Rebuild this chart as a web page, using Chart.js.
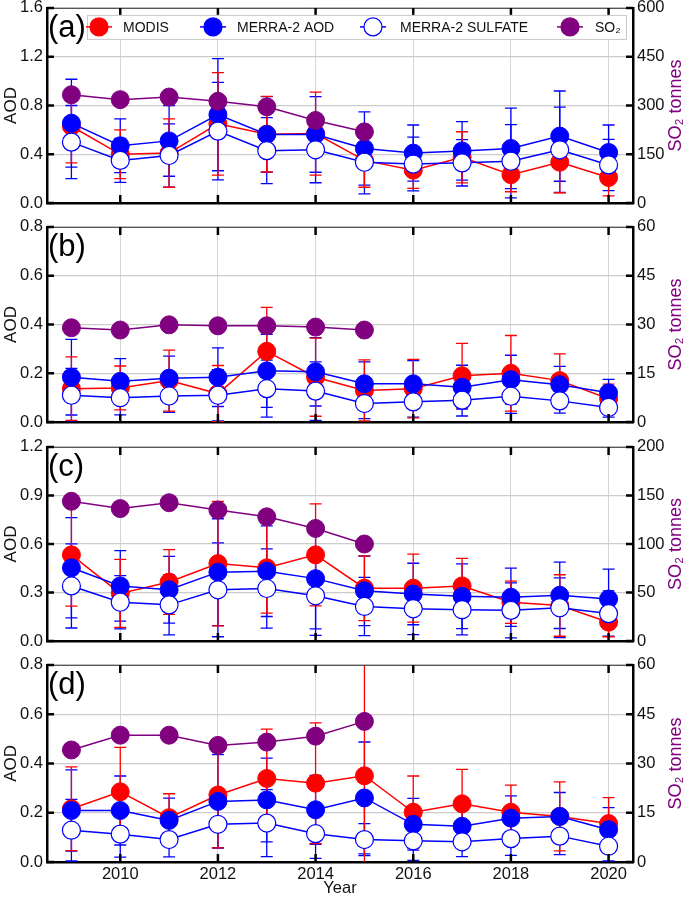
<!DOCTYPE html>
<html lang="en">
<head>
<meta charset="UTF-8">
<title>AOD and SO2 by year</title>
<script src="https://cdn.jsdelivr.net/npm/chart.js@4.4.1/dist/chart.umd.min.js"></script>
<style>
  body { margin: 0; background: #fff; overflow: hidden; }
  #wrap { position: relative; width: 685px; height: 898px; }
  #wrap canvas { position: absolute; left: 0; }
</style>
</head>
<body>
<div id="wrap">
  <canvas id="panelA"></canvas>
  <canvas id="panelB"></canvas>
  <canvas id="panelC"></canvas>
  <canvas id="panelD"></canvas>
</div>
<script>
// years and labels
const years = [2009, 2010, 2011, 2012, 2013, 2014, 2015, 2016, 2017, 2018, 2019, 2020];
const so2Years = [2009, 2010, 2011, 2012, 2013, 2014, 2015];
const yearTicks = [2010, 2012, 2014, 2016, 2018, 2020];
const seriesNames = ['MODIS', 'MERRA-2 AOD', 'MERRA-2 SULFATE', 'SO\u2082'];
const panelLabels = ['(a)', '(b)', '(c)', '(d)'];
const so2Title = 'SO\u2082 tonnes';

// panel (a)
const modisA    = [0.63, 0.40, 0.41, 0.65, 0.565, 0.57, 0.35, 0.27, 0.375, 0.233, 0.335, 0.21];
const modisErrA = [0.30, 0.20, 0.28, 0.42, 0.31, 0.34, 0.22, 0.15, 0.21, 0.14, 0.25, 0.15];
const merraA    = [0.655, 0.47, 0.51, 0.725, 0.563, 0.563, 0.448, 0.41, 0.428, 0.448, 0.549, 0.415];
const merraErrA = [0.36, 0.22, 0.29, 0.46, 0.31, 0.31, 0.30, 0.23, 0.24, 0.33, 0.37, 0.225];
const sulfA     = [0.50, 0.35, 0.39, 0.59, 0.43, 0.437, 0.335, 0.32, 0.33, 0.343, 0.437, 0.313];
const sulfErrA  = [0.30, 0.18, 0.26, 0.40, 0.27, 0.27, 0.26, 0.22, 0.19, 0.30, 0.35, 0.21];
const so2A      = [333, 318, 326, 313, 296, 254, 219];

// panel (b)
const modisB    = [0.137, 0.14, 0.17, 0.117, 0.29, 0.184, 0.13, 0.137, 0.19, 0.20, 0.17, 0.096];
const modisErrB = [0.13, 0.09, 0.125, 0.115, 0.18, 0.16, 0.125, 0.12, 0.133, 0.155, 0.11, 0.06];
const merraB    = [0.184, 0.167, 0.18, 0.184, 0.21, 0.206, 0.157, 0.157, 0.143, 0.174, 0.153, 0.12];
const merraErrB = [0.155, 0.093, 0.09, 0.12, 0.15, 0.14, 0.09, 0.095, 0.09, 0.10, 0.075, 0.055];
const sulfB     = [0.11, 0.10, 0.107, 0.11, 0.137, 0.127, 0.076, 0.083, 0.09, 0.106, 0.087, 0.06];
const sulfErrB  = [0.11, 0.07, 0.067, 0.105, 0.117, 0.12, 0.062, 0.063, 0.065, 0.07, 0.05, 0.04];
const so2B      = [29.0, 28.3, 29.9, 29.6, 29.6, 29.2, 28.3];

// panel (c)
const modisC    = [0.533, 0.295, 0.365, 0.479, 0.453, 0.533, 0.327, 0.327, 0.341, 0.24, 0.22, 0.117];
const modisErrC = [0.317, 0.21, 0.20, 0.385, 0.28, 0.315, 0.20, 0.21, 0.17, 0.13, 0.19, 0.09];
const merraC    = [0.453, 0.341, 0.317, 0.426, 0.432, 0.386, 0.311, 0.291, 0.277, 0.271, 0.283, 0.26];
const merraErrC = [0.31, 0.218, 0.206, 0.33, 0.28, 0.31, 0.215, 0.19, 0.20, 0.18, 0.205, 0.185];
const sulfC     = [0.341, 0.24, 0.224, 0.317, 0.325, 0.28, 0.214, 0.20, 0.194, 0.19, 0.206, 0.17];
const sulfErrC  = [0.26, 0.165, 0.185, 0.29, 0.245, 0.245, 0.18, 0.16, 0.155, 0.17, 0.185, 0.14];
const so2C      = [144, 136.5, 142.5, 135, 128, 116, 100];

// panel (d)
const modisD    = [0.216, 0.285, 0.18, 0.272, 0.339, 0.32, 0.35, 0.202, 0.236, 0.202, 0.185, 0.156];
const modisErrD = [0.17, 0.18, 0.097, 0.215, 0.20, 0.245, 0.50, 0.147, 0.14, 0.11, 0.14, 0.105];
const merraD    = [0.209, 0.209, 0.169, 0.246, 0.252, 0.212, 0.26, 0.153, 0.145, 0.178, 0.185, 0.131];
const merraErrD = [0.165, 0.14, 0.09, 0.19, 0.17, 0.14, 0.227, 0.105, 0.065, 0.09, 0.097, 0.09];
const sulfD     = [0.129, 0.113, 0.091, 0.153, 0.158, 0.115, 0.091, 0.086, 0.082, 0.095, 0.105, 0.064];
const sulfErrD  = [0.125, 0.093, 0.07, 0.095, 0.136, 0.10, 0.065, 0.08, 0.06, 0.068, 0.075, 0.06];
const so2D      = [34.1, 38.6, 38.6, 35.5, 36.5, 38.3, 42.8];

const RED = '#ff0000', BLUE = '#0000ff', PURPLE = '#800080';
const FONT = '"Liberation Sans", Arial, sans-serif';

Chart.defaults.font.family = FONT;
Chart.defaults.font.size = 16.5;
Chart.defaults.color = '#111';

const panels = [
  { id: 'panelA', plotTop: 6,   plotBottom: 205, aodMax: 1.6, aodStep: 0.4, so2Max: 600, so2Step: 150,
    modis: modisA, modisErr: modisErrA, merra: merraA, merraErr: merraErrA, sulf: sulfA, sulfErr: sulfErrA, so2: so2A },
  { id: 'panelB', plotTop: 225, plotBottom: 424, aodMax: 0.8, aodStep: 0.2, so2Max: 60, so2Step: 15,
    modis: modisB, modisErr: modisErrB, merra: merraB, merraErr: merraErrB, sulf: sulfB, sulfErr: sulfErrB, so2: so2B },
  { id: 'panelC', plotTop: 445, plotBottom: 643, aodMax: 1.2, aodStep: 0.3, so2Max: 200, so2Step: 50,
    modis: modisC, modisErr: modisErrC, merra: merraC, merraErr: merraErrC, sulf: sulfC, sulfErr: sulfErrC, so2: so2C },
  { id: 'panelD', plotTop: 663, plotBottom: 862, aodMax: 0.8, aodStep: 0.2, so2Max: 60, so2Step: 15,
    modis: modisD, modisErr: modisErrD, merra: merraD, merraErr: merraErrD, sulf: sulfD, sulfErr: sulfErrD, so2: so2D }
];

// error bars, drawn under the markers
const errorBarPlugin = {
  id: 'errorBars',
  beforeDatasetsDraw(chart) {
    const ctx = chart.ctx, a = chart.chartArea;
    ctx.save();
    ctx.beginPath();
    ctx.rect(a.left, a.top, a.right - a.left, a.bottom - a.top);
    ctx.clip();
    chart.data.datasets.forEach((ds, i) => {
      if (!ds.errors) return;
      const meta = chart.getDatasetMeta(i);
      const ys = chart.scales[meta.yAxisID];
      ctx.strokeStyle = ds.borderColor;
      ctx.lineWidth = 1.3;
      meta.data.forEach((pt, j) => {
        const v = ds.data[j].y, e = ds.errors[j];
        const yHi = ys.getPixelForValue(v + e), yLo = ys.getPixelForValue(v - e);
        ctx.beginPath();
        ctx.moveTo(pt.x, yHi); ctx.lineTo(pt.x, yLo);
        ctx.moveTo(pt.x - 6, yHi); ctx.lineTo(pt.x + 6, yHi);
        ctx.moveTo(pt.x - 6, yLo); ctx.lineTo(pt.x + 6, yLo);
        ctx.stroke();
      });
    });
    ctx.restore();
  }
};

// top frame line, inward ticks, panel letter, right title, legend box
const framePlugin = {
  id: 'frame',
  afterDraw(chart, args, opts) {
    const { ctx, chartArea: a, scales } = chart;
    ctx.save();
    ctx.strokeStyle = '#444';
    ctx.lineWidth = 1;
    ctx.beginPath();
    ctx.moveTo(a.left, a.top + 0.5); ctx.lineTo(a.right, a.top + 0.5);
    ctx.stroke();

    ctx.strokeStyle = '#000';
    ctx.lineWidth = 2.5;
    ctx.beginPath();
    yearTicks.forEach(yr => {
      const x = scales.x.getPixelForValue(yr);
      ctx.moveTo(x, a.top); ctx.lineTo(x, a.top + 8);
      ctx.moveTo(x, a.bottom); ctx.lineTo(x, a.bottom - 8);
    });
    scales.y.ticks.forEach(t => {
      const y = scales.y.getPixelForValue(t.value);
      ctx.moveTo(a.left, y); ctx.lineTo(a.left + 7, y);
      ctx.moveTo(a.right, y); ctx.lineTo(a.right - 7, y);
    });
    ctx.stroke();

    ctx.fillStyle = '#000';
    ctx.font = '31px ' + FONT;
    ctx.textBaseline = 'top';
    ctx.textAlign = 'left';
    ctx.fillText(opts.label, a.left + 1, a.top + 5);

    // right axis title, reading bottom to top
    ctx.save();
    ctx.translate(a.right + 43, (a.top + a.bottom) / 2);
    ctx.rotate(-Math.PI / 2);
    ctx.fillStyle = PURPLE;
    ctx.font = '18px ' + FONT;
    ctx.textAlign = 'center';
    ctx.textBaseline = 'middle';
    ctx.fillText(so2Title, 0, 0);
    ctx.restore();

    if (opts.legend) {
      const x0 = a.left + 40, x1 = a.left + 579, y0 = a.top + 7, y1 = a.top + 31, cy = a.top + 19;
      ctx.fillStyle = '#fff';
      ctx.fillRect(x0, y0, x1 - x0, y1 - y0);
      ctx.strokeStyle = '#c8c8c8';
      ctx.lineWidth = 1;
      ctx.strokeRect(x0 + 0.5, y0 + 0.5, x1 - x0, y1 - y0);
      const markX = [52, 166, 326, 523];
      const textX = [76, 190, 353, 548];
      const styles = [
        { line: RED, fill: RED },
        { line: BLUE, fill: BLUE },
        { line: BLUE, fill: '#fff' },
        { line: PURPLE, fill: PURPLE }
      ];
      seriesNames.forEach((name, i) => {
        const mx = a.left + markX[i];
        ctx.strokeStyle = styles[i].line;
        ctx.lineWidth = 1.5;
        ctx.beginPath();
        ctx.moveTo(mx - 13, cy); ctx.lineTo(mx + 13, cy);
        ctx.stroke();
        ctx.beginPath();
        ctx.arc(mx, cy, 9, 0, Math.PI * 2);
        ctx.fillStyle = styles[i].fill;
        ctx.fill();
        ctx.lineWidth = 1.2;
        ctx.stroke();
        ctx.fillStyle = '#111';
        ctx.font = '14px ' + FONT;
        ctx.textBaseline = 'middle';
        ctx.fillText(name, a.left + textX[i], cy + 1);
      });
    }
    ctx.restore();
  }
};

function points(xs, ys) {
  return xs.map((x, i) => ({ x: x, y: ys[i] }));
}

function makePanel(p, idx) {
  const canvas = document.getElementById(p.id);
  const isLast = idx === panels.length - 1;
  const padTop = 12;
  const xAxisH = isLast ? 898 - p.plotBottom : 12;
  const canvasTop = p.plotTop - padTop;
  const canvasH = p.plotBottom + xAxisH - canvasTop;
  canvas.width = 685;
  canvas.height = canvasH;
  canvas.style.top = canvasTop + 'px';

  new Chart(canvas, {
    type: 'line',
    data: {
      datasets: [
        { label: seriesNames[3], data: points(so2Years, p.so2), yAxisID: 'y2', order: 0,
          borderColor: PURPLE, backgroundColor: PURPLE, pointBackgroundColor: PURPLE,
          borderWidth: 1.5, pointRadius: 9, pointBorderWidth: 1 },
        { label: seriesNames[2], data: points(years, p.sulf), errors: p.sulfErr, yAxisID: 'y', order: 1,
          borderColor: BLUE, backgroundColor: '#fff', pointBackgroundColor: '#fff',
          borderWidth: 1.5, pointRadius: 9, pointBorderWidth: 1.2 },
        { label: seriesNames[1], data: points(years, p.merra), errors: p.merraErr, yAxisID: 'y', order: 2,
          borderColor: BLUE, backgroundColor: BLUE, pointBackgroundColor: BLUE,
          borderWidth: 1.5, pointRadius: 9, pointBorderWidth: 1 },
        { label: seriesNames[0], data: points(years, p.modis), errors: p.modisErr, yAxisID: 'y', order: 3,
          borderColor: RED, backgroundColor: RED, pointBackgroundColor: RED,
          borderWidth: 1.5, pointRadius: 9, pointBorderWidth: 1 }
      ]
    },
    options: {
      responsive: false,
      animation: false,
      devicePixelRatio: 1,
      layout: { padding: { top: padTop, left: 0, right: 0, bottom: 0 } },
      plugins: {
        legend: { display: false },
        tooltip: { enabled: false },
        frame: { label: panelLabels[idx], legend: idx === 0 }
      },
      scales: {
        x: {
          type: 'linear', min: 2008.5, max: 2020.5,
          afterBuildTicks: axis => { axis.ticks = yearTicks.map(v => ({ value: v })); },
          afterFit: axis => { axis.height = xAxisH; },
          grid: { color: '#d6d6d6', lineWidth: 1, drawTicks: false },
          border: { color: '#000', width: 2.5 },
          ticks: { display: isLast, padding: 3, color: '#111', callback: v => String(v) },
          title: { display: isLast, text: 'Year', padding: 0, color: '#111', font: { size: 16.5 } }
        },
        y: {
          position: 'left', min: 0, max: p.aodMax,
          afterFit: axis => { axis.width = 47; },
          grid: { color: '#cccccc', lineWidth: 1.3, drawTicks: false },
          border: { color: '#000', width: 2.5 },
          ticks: { stepSize: p.aodStep, padding: 4, callback: v => v.toFixed(1) },
          title: { display: true, text: 'AOD', padding: 1, color: '#111', font: { size: 17 } }
        },
        y2: {
          position: 'right', min: 0, max: p.so2Max,
          afterFit: axis => { axis.width = 52; },
          grid: { drawOnChartArea: false, drawTicks: false },
          border: { color: '#000', width: 2.5 },
          ticks: { stepSize: p.so2Step, padding: 4, callback: v => String(Math.round(v)) }
        }
      }
    },
    plugins: [errorBarPlugin, framePlugin]
  });
}

panels.forEach(makePanel);
</script>
</body>
</html>
